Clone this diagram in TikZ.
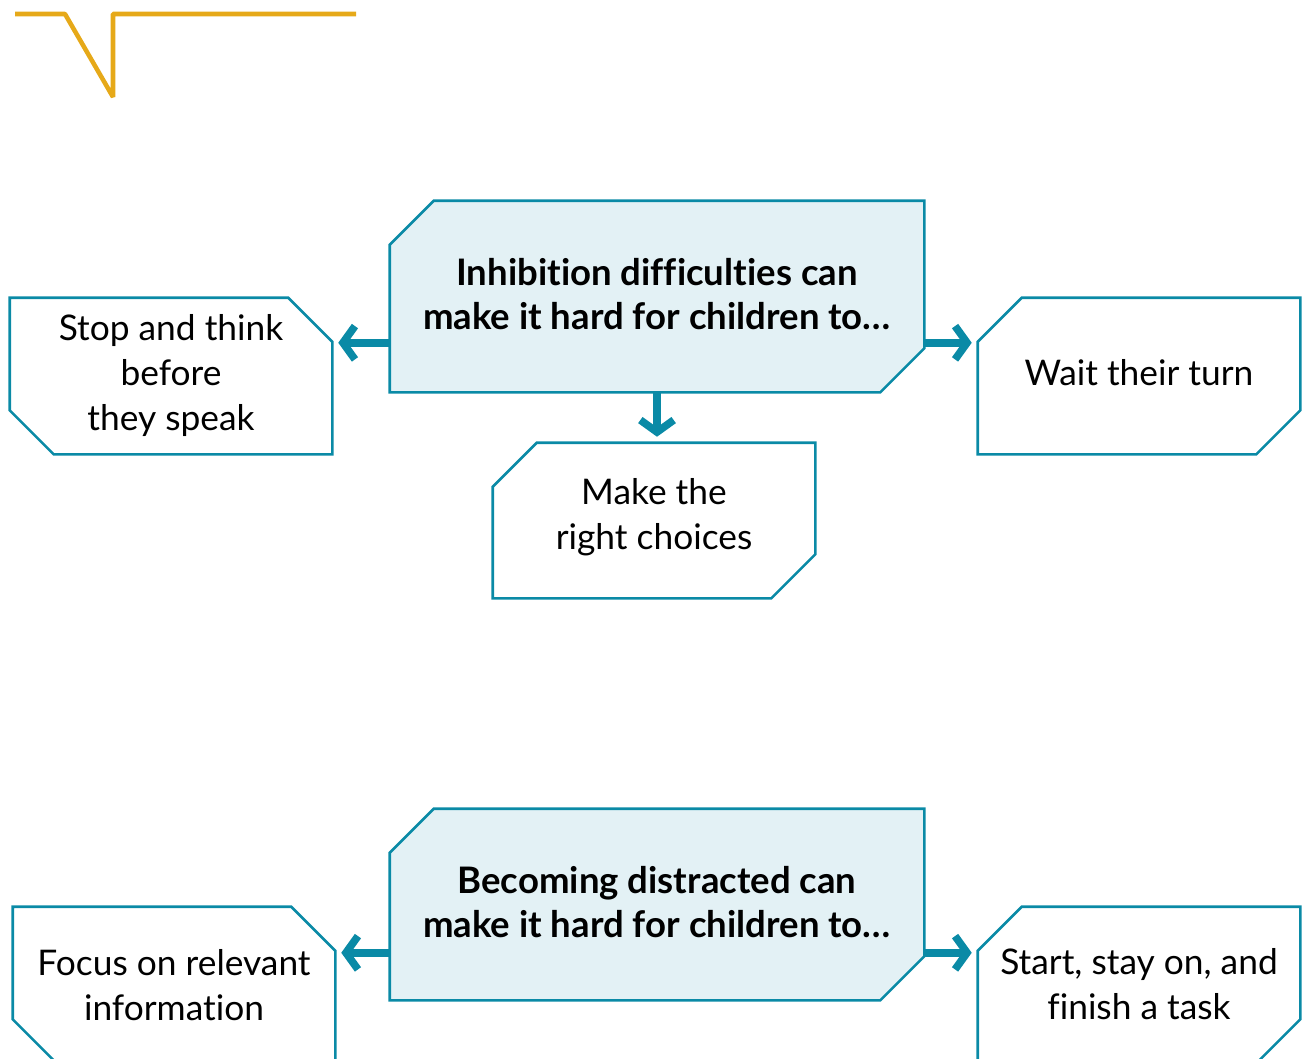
\documentclass[tikz,border=0pt]{standalone}
\usepackage{fontspec}
\setmainfont{Lato}[Ligatures=NoCommon]
\usetikzlibrary{arrows.meta,calc,backgrounds}
\definecolor{tealline}{HTML}{0A8AA6}
\definecolor{lightfill}{HTML}{E3F1F5}
\definecolor{goldline}{HTML}{E6A919}
\newcommand\boxNWSE[2]{%
  \path[#1] ($(#2.north west)+(0,44)$) -- ($(#2.north west)+(44,0)$) -- (#2.north east)
    -- ($(#2.south east)+(0,-44)$) -- ($(#2.south east)+(-44,0)$) -- (#2.south west) -- cycle;}
\newcommand\boxNESW[2]{%
  \path[#1] (#2.north west) -- ($(#2.north east)+(-44,0)$) -- ($(#2.north east)+(0,44)$)
    -- (#2.south east) -- ($(#2.south west)+(44,0)$) -- ($(#2.south west)+(0,-44)$) -- cycle;}
\begin{document}
\begin{tikzpicture}[x=0.75pt,y=-0.75pt,
  txt/.style={align=center, inner sep=0pt, font=\fontsize{26.5}{33.75}\selectfont},
  hd/.style={align=center, inner sep=0pt, font=\fontsize{27.4}{33}\selectfont\bfseries},
  bigbox/.style={minimum width=400.5pt, minimum height=143.25pt},
  smallbox/.style={minimum width=241.5pt, minimum height=117pt},
  outline/.style={draw=tealline, line width=1.9pt, line join=miter},
  mainfill/.style={outline, fill=lightfill},
  sidefill/.style={outline, fill=white},
  conn/.style={draw=tealline, line width=5.7pt, -{Straight Barb[length=9pt, width=25pt]}, shorten >=4.5pt},
  gold/.style={draw=goldline, line width=3.4pt, line join=bevel}]
\useasboundingbox (0,0) rectangle (1305,1058);
\clip (0,0) rectangle (1305,1058);
\draw[gold] (15,14) -- (65,14) -- (113,97) -- (113,14) -- (356,14);

\node[hd, bigbox, text depth=4.5pt] (inh) at (657,296.5) {Inhibition difficulties can\\make it hard for children to…};
\node[txt, smallbox] (stop) at (171,376) {Stop and think\\before\\they speak};
\node[txt, smallbox, text depth=6pt] (wait) at (1139,376) {Wait their turn};
\node[txt, smallbox, minimum height=116.25pt, text depth=9.8pt] (make) at (654,520.5) {Make the\\right choices};

\node[hd, bigbox, text depth=4.5pt] (dist) at (657,904.5) {Becoming distracted can\\make it hard for children to…};
\node[txt, smallbox] (focus) at (174,985) {Focus on relevant\\information};
\node[txt, smallbox, text depth=2pt] (start) at (1139,985) {Start, stay on, and\\finish a task};

\begin{scope}[on background layer]
  \boxNWSE{mainfill}{inh}
  \boxNESW{sidefill}{stop}
  \boxNWSE{sidefill}{wait}
  \boxNWSE{sidefill}{make}
  \boxNWSE{mainfill}{dist}
  \boxNESW{sidefill}{focus}
  \boxNWSE{sidefill}{start}
\end{scope}

\coordinate (stop-in) at ($(stop.north east)+(0,45)$);
\coordinate (wait-in) at ($(wait.north west)+(0,45)$);
\coordinate (focus-in) at ($(focus.north east)+(0,46)$);
\coordinate (start-in) at ($(start.north west)+(0,46)$);

\draw[conn] (inh.west |- stop-in) -- (stop-in);
\draw[conn] (inh.east |- wait-in) -- (wait-in);
\draw[conn] (inh.south) -- (inh.south |- make.north);
\draw[conn] (dist.west |- focus-in) -- (focus-in);
\draw[conn] (dist.east |- start-in) -- (start-in);
\end{tikzpicture}
\end{document}
